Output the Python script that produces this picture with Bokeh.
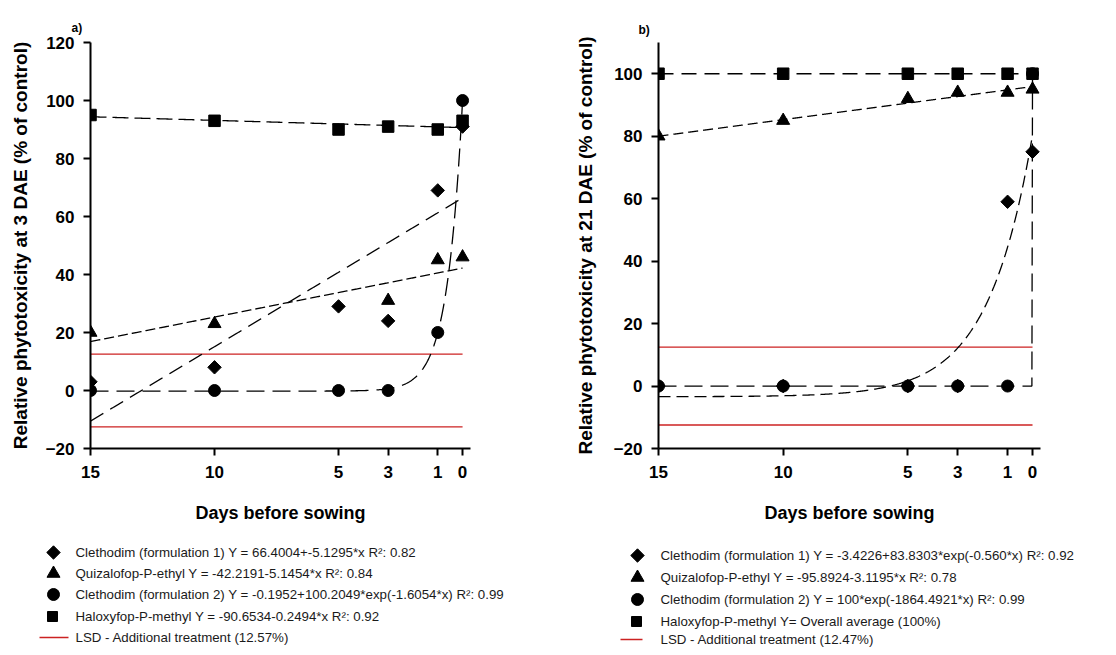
import numpy as np
from bokeh.plotting import figure
from bokeh.models import Range1d, FixedTicker, Title, ColumnDataSource
from bokeh.layouts import row, column
from bokeh.embed import file_html
from bokeh.resources import INLINE
from bokeh.core.properties import value

# ---------------- data ----------------
days = [15, 10, 5, 3, 1, 0]
x_ticks = [15, 10, 5, 3, 1, 0]

# panel a (3 DAE)
a_clet1 = [3, 8, 29, 24, 69, 91]
a_quiz_days = [15, 10, 3, 1, 0]
a_quiz = [20, 23, 31, 45, 46]
a_clet2 = [0, 0, 0, 0, 20, 100]
a_halox = [95, 93, 90, 91, 90, 93]
a_yticks = [-20, 0, 20, 40, 60, 80, 100, 120]
a_lsd = 12.57

# fitted models panel a (coefficients)
a_fit_clet1 = (66.4004, -5.1295)          # linear
a_fit_quiz = (42.2191, -1.69)             # linear (as drawn)
a_fit_clet2 = (-0.1952, 100.2049, -1.6054)  # exponential
a_fit_halox = (90.6534, 0.2494)           # linear

# panel b (21 DAE)
b_clet1 = [0, 0, 0, 0, 59, 75]
b_quiz = [80, 85, 92, 94, 94, 95]
b_clet2 = [0, 0, 0, 0, 0, 100]
b_halox = [100, 100, 100, 100, 100, 100]
b_yticks = [-20, 0, 20, 40, 60, 80, 100]
b_lsd = 12.47

b_fit_clet1 = (-3.4226, 83.8303, -0.560)
b_fit_quiz = (95.8924, -1.06)
b_fit_clet2 = (0.0, 100.0, -1864.4921)
b_fit_halox = 100.0

a_legend = [
    "Clethodim (formulation 1) Y = 66.4004+-5.1295*x R\u00b2: 0.82",
    "Quizalofop-P-ethyl Y = -42.2191-5.1454*x R\u00b2: 0.84",
    "Clethodim (formulation 2) Y = -0.1952+100.2049*exp(-1.6054*x) R\u00b2: 0.99",
    "Haloxyfop-P-methyl Y = -90.6534-0.2494*x R\u00b2: 0.92",
    "LSD - Additional treatment (12.57%)",
]
b_legend = [
    "Clethodim (formulation 1) Y = -3.4226+83.8303*exp(-0.560*x) R\u00b2: 0.92",
    "Quizalofop-P-ethyl Y = -95.8924-3.1195*x R\u00b2: 0.78",
    "Clethodim (formulation 2) Y = 100*exp(-1864.4921*x) R\u00b2: 0.99",
    "Haloxyfop-P-methyl Y= Overall average (100%)",
    "LSD - Additional treatment (12.47%)",
]

FONT = "Liberation Sans"
RED = "#cc2222"

xx = np.linspace(15, 0, 601)


def lin(c):
    return c[0] + c[1] * xx


def expo(c):
    return c[0] + c[1] * np.exp(c[2] * xx)


def base_fig(ymin, ymax, yticks, left, right, ylabel, label_standoff, tag, tag_standoff, tag_offset):
    p = figure(width=558, height=530, output_backend="svg", toolbar_location=None,
               x_range=Range1d(15, -0.32), y_range=Range1d(ymin, ymax),
               min_border_left=left, min_border_right=right,
               min_border_top=42, min_border_bottom=82)
    p.outline_line_color = None
    p.grid.visible = False
    p.background_fill_color = "white"
    p.border_fill_color = "white"
    for ax in (p.xaxis[0], p.yaxis[0]):
        ax.axis_line_width = 2
        ax.axis_line_color = "black"
        ax.major_tick_line_width = 2
        ax.major_tick_line_color = "black"
        ax.major_tick_out = 7
        ax.major_tick_in = 0
        ax.minor_tick_line_color = None
        ax.major_label_text_font = FONT
        ax.major_label_text_font_style = "bold"
        ax.major_label_text_font_size = "17px"
        ax.major_label_text_color = "black"
        ax.axis_label_text_font = FONT
        ax.axis_label_text_font_style = "bold"
        ax.axis_label_text_color = "black"
    p.xaxis.ticker = FixedTicker(ticks=x_ticks)
    p.yaxis.ticker = FixedTicker(ticks=yticks)
    p.xaxis.major_label_standoff = 10
    p.yaxis.major_label_standoff = 9
    p.xaxis.axis_label = "Days before sowing"
    p.xaxis.axis_label_text_font_size = "18px"
    p.xaxis.axis_label_standoff = 22
    p.yaxis.axis_label = ylabel
    p.yaxis.axis_label_text_font_size = "19px"
    p.yaxis.axis_label_standoff = label_standoff
    p.add_layout(Title(text=tag, align="left", offset=tag_offset, standoff=tag_standoff,
                       text_font=FONT, text_font_style="bold",
                       text_font_size="12px", text_color="black"), "above")
    return p


def markers(p, xs_d, yd, xs_t, yt, xs_c, yc, xs_s, ys):
    p.scatter(xs_c, yc, marker="circle", size=12, color="black")
    p.scatter(xs_d, yd, marker="square", angle=np.pi / 4, size=9.5, color="black")
    p.scatter(xs_t, yt, marker="triangle", size=13, color="black")
    p.scatter(xs_s, ys, marker="square", size=11.5, color="black")


# ---------------- panel a ----------------
pa = base_fig(-20, 120, a_yticks, 90, 88,
              "Relative phytotoxicity at 3 DAE (% of control)", 12, "a)", 16, -19)
pa.line([15, 0], [a_lsd, a_lsd], line_color=RED, line_width=1.2)
pa.line([15, 0], [-a_lsd, -a_lsd], line_color=RED, line_width=1.2)
pa.line(xx, lin(a_fit_halox), line_color="black", line_width=1.3, line_dash="16 6")
pa.line(xx, lin(a_fit_quiz), line_color="black", line_width=1.3, line_dash="10 4")
pa.line(xx, lin(a_fit_clet1), line_color="black", line_width=1.3, line_dash="15 8")
pa.line(xx, expo(a_fit_clet2), line_color="black", line_width=1.3, line_dash="18 8")
markers(pa, days, a_clet1, a_quiz_days, a_quiz, days, a_clet2, days, a_halox)

# ---------------- panel b ----------------
pb = base_fig(-20, 110, b_yticks, 100, 76,
              "Relative phytotoxicity at 21 DAE (% of control)", 15, "b)", 11, -20)
pb.line([15, 0], [b_lsd, b_lsd], line_color=RED, line_width=1.2)
pb.line([15, 0], [-b_lsd, -b_lsd], line_color=RED, line_width=1.6)
pb.line(xx, np.full_like(xx, b_fit_halox), line_color="black", line_width=1.3, line_dash="15 8")
pb.line(xx, lin(b_fit_quiz), line_color="black", line_width=1.3, line_dash="10 5")
pb.line(xx, expo(b_fit_clet1), line_color="black", line_width=1.3, line_dash="12 6")
pb.line(xx, expo(b_fit_clet2), line_color="black", line_width=1.3, line_dash="18 8")
markers(pb, days, b_clet1, days, b_quiz, days, b_clet2, days, b_halox)


# ---------------- legends ----------------
def legend_fig(labels, mx, tx, ys, line_x):
    f = figure(width=558, height=125, output_backend="svg", toolbar_location=None,
               x_range=Range1d(0, 558), y_range=Range1d(125, 0),
               x_axis_type=None, y_axis_type=None,
               min_border=0, min_border_left=0, min_border_right=0,
               min_border_top=0, min_border_bottom=0)
    f.outline_line_color = None
    f.grid.visible = False
    f.scatter([mx], [ys[0]], marker="square", angle=np.pi / 4, size=9.5, color="black")
    f.scatter([mx], [ys[1]], marker="triangle", size=13, color="black")
    f.scatter([mx], [ys[2]], marker="circle", size=12, color="black")
    f.scatter([mx - 1], [ys[3]], marker="square", size=10, color="black")
    f.line(line_x, [ys[4], ys[4]], line_color=RED, line_width=1.6)
    src = ColumnDataSource(dict(x=[tx] * 5, y=ys, t=labels))
    f.text(x="x", y="y", text="t", source=src, text_font=value(FONT),
           text_font_size="13.3px", text_baseline="middle", text_align="left",
           text_color="#1a1a1a")
    return f


la = legend_fig(a_legend, 53, 75, [22, 43, 64, 86, 107], [39, 68])
lb = legend_fig(b_legend, 79, 102, [25, 47, 69, 91, 109], [62, 84])

layout = column(row(pa, pb), row(la, lb))
open("out.html", "w").write(file_html(layout, INLINE))
